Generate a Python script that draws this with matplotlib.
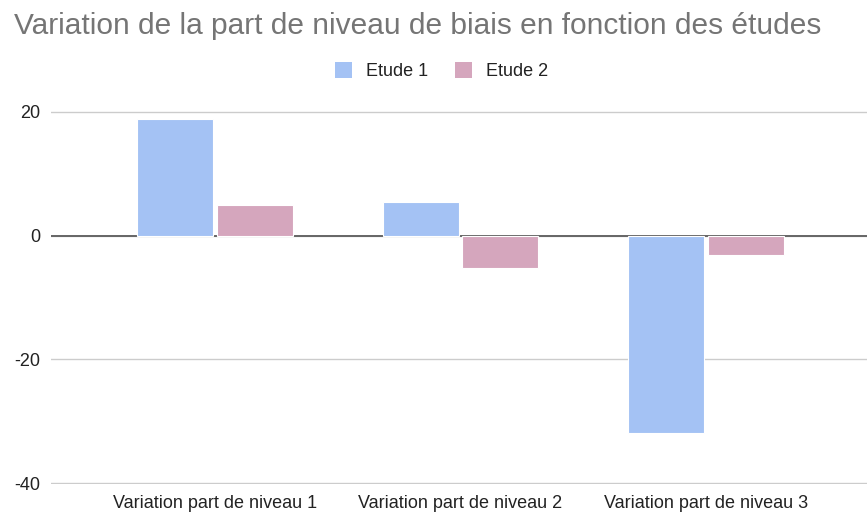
import matplotlib
matplotlib.use("Agg")
import matplotlib.pyplot as plt
from matplotlib.patches import Patch
import numpy as np

plt.rcParams['font.family'] = ['Liberation Sans', 'DejaVu Sans']

categories = ["Variation part de niveau 1", "Variation part de niveau 2", "Variation part de niveau 3"]
series_names = ["Etude 1", "Etude 2"]
etude1 = [18.8, 5.5, -31.9]
etude2 = [5.0, -5.3, -3.2]
yticks = [-40, -20, 0, 20]
title = "Variation de la part de niveau de biais en fonction des études"

colors = ["#a4c2f4", "#d5a6bd"]

W, H = 867, 513
fig = plt.figure(figsize=(W / 100, H / 100), dpi=100)

# axes in pixel coordinates
left_px, right_px = 51, 867
top_px, bot_px = 111.7, 483.3
ax = fig.add_axes([left_px / W, (H - bot_px) / H, (right_px - left_px) / W, (bot_px - top_px) / H])

ymin, ymax = -40, 20
pad = 0.15
ax.set_ylim(ymin - pad, ymax + pad)
ppu = (bot_px - top_px) / (ymax - ymin)
ax.set_position([left_px / W, (H - bot_px - pad * ppu) / H, (right_px - left_px) / W,
                 (bot_px - top_px + 2 * pad * ppu) / H])

x = np.arange(len(categories))
spacing_px = 245.5
first_center = 215
xmin = -(first_center - left_px) / spacing_px
xmax = (len(categories) - 1) + (right_px - (first_center + spacing_px * 2)) / spacing_px
ax.set_xlim(xmin, xmax)

bw = 76 / spacing_px
gap = 3.5 / spacing_px
ax.bar(x - bw / 2 - gap / 2, etude1, width=bw, color=colors[0], edgecolor="white", linewidth=0.8, zorder=3)
ax.bar(x + bw / 2 + gap / 2, etude2, width=bw, color=colors[1], edgecolor="white", linewidth=0.8, zorder=3)

ax.set_yticks(yticks)
ax.set_yticklabels([str(t) for t in yticks])
ax.yaxis.grid(True, color="#cccccc", linewidth=1.0, zorder=0)
ax.set_axisbelow(True)
ax.axhline(0, color="#666666", linewidth=1.4, zorder=2)

ax.set_xticks(x)
ax.set_xticklabels(categories)
for s in ax.spines.values():
    s.set_visible(False)
ax.tick_params(axis="y", length=0, pad=7.5, labelsize=13, labelcolor="#222222")
ax.tick_params(axis="x", length=0, pad=8, labelsize=13, labelcolor="#222222")

fig.text(14 / W, 1 - 34 / H, title, fontsize=21.5, color="#757575", ha="left", va="baseline")

handles = [Patch(facecolor=c, edgecolor="none") for c in colors]
fig.legend(handles, series_names, loc="center", bbox_to_anchor=(441.5 / W, 1 - 71 / H), ncol=2,
           frameon=False, fontsize=13, handlelength=0.95, handleheight=1.0,
           handletextpad=0.75, columnspacing=1.5, labelcolor="#222222")

fig.savefig("out.png", dpi=100, facecolor="white")
